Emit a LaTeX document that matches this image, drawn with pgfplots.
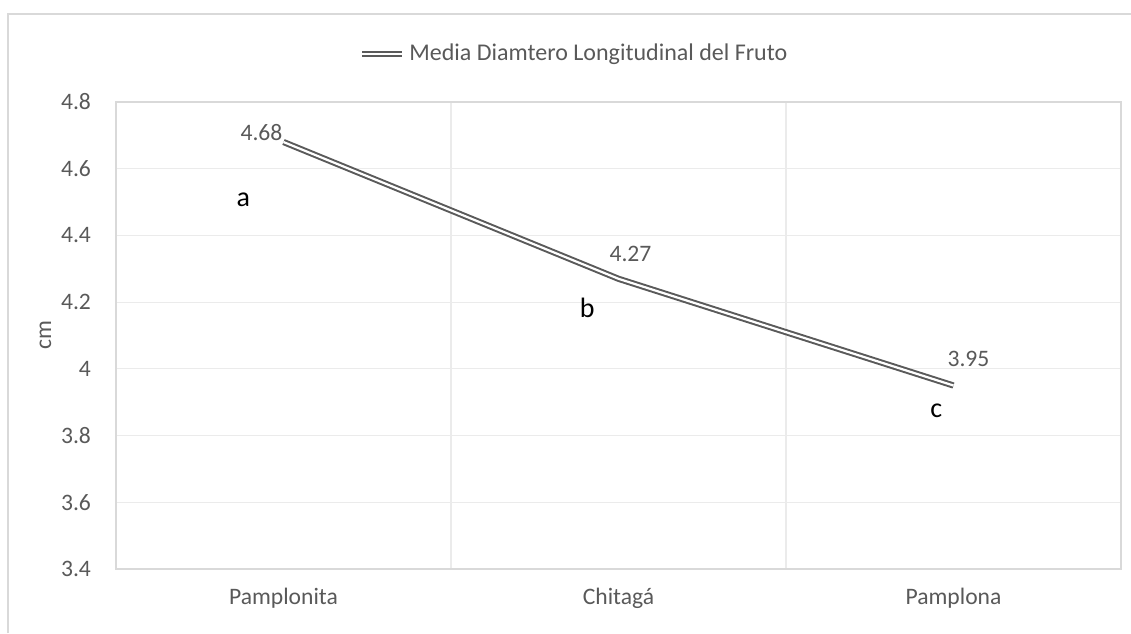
\documentclass[border=0pt]{standalone}
\usepackage{pgfplots}
\usepackage{pgfplotstable}
\pgfplotsset{compat=1.18}
\usepackage{fontspec}
\setmainfont{Carlito}
\definecolor{txtgray}{HTML}{595959}
\definecolor{gridgray}{HTML}{EBEBEB}
\definecolor{framegray}{HTML}{D9D9D9}
\definecolor{linegray}{HTML}{5A5A5A}
\pgfplotstableread{
x y dx dy
0 4.68 -11 4.5
1 4.27 6 12.5
2 3.95 7.5 13.5
}\datatable
\begin{document}
\begin{tikzpicture}
\useasboundingbox (0,0) rectangle (565.5pt,316.5pt);
\draw[framegray, line width=0.8pt] (4pt,0) -- (4pt,309.5pt) -- (565.5pt,309.5pt);
\begin{axis}[
  at={(58pt,32pt)}, anchor=south west,
  scale only axis, width=502.5pt, height=233.5pt,
  xmin=-0.5, xmax=2.5, ymin=3.4, ymax=4.8,
  ytick={3.4,3.6,...,4.81},
  yticklabels={3.4,3.6,3.8,4,4.2,4.4,4.6,4.8},
  xtick={0,1,2}, xticklabels={Pamplonita,Chitagá,Pamplona},
  minor xtick={0.5,1.5},
  xminorgrids, ymajorgrids,
  major tick length=0pt, minor tick length=0pt,
  grid style={gridgray, line width=0.6pt},
  minor grid style={gridgray, line width=0.6pt},
  axis line style={framegray, line width=0.8pt},
  tick label style={font=\fontsize{11.8}{13}\selectfont, text=txtgray},
  yticklabel style={xshift=-9pt},
  xticklabel style={yshift=-6pt},
  ylabel={cm}, ylabel style={font=\fontsize{11.8}{13}\selectfont, text=txtgray, yshift=-2pt},
  legend style={at={(0.457,1.103)}, anchor=center, draw=none, fill=none,
    font=\fontsize{12}{13}\selectfont, text=txtgray},
  legend image code/.code={\draw[#1] (0pt,0pt) -- (20pt,0pt);},
  clip=false,
]
\addplot[linegray, line width=1.0pt, double=white, double distance=1.1pt,
  nodes near coords, point meta=explicit symbolic,
  visualization depends on={\thisrow{dx} \as \dx},
  visualization depends on={\thisrow{dy} \as \dy},
  every node near coord/.append style={anchor=center, xshift=\dx pt, yshift=\dy pt,
    font=\fontsize{11.8}{13}\selectfont, text=txtgray}]
  table[x=x, y=y, meta=y] {\datatable};
\addlegendentry{Media Diamtero Longitudinal del Fruto}
\node[font=\fontsize{14}{15}\selectfont, text=black] at (axis cs:-0.12,4.506) {a};
\node[font=\fontsize{14}{15}\selectfont, text=black] at (axis cs:0.907,4.182) {b};
\node[font=\fontsize{14}{15}\selectfont, text=black] at (axis cs:1.949,3.874) {c};
\end{axis}
\end{tikzpicture}
\end{document}
